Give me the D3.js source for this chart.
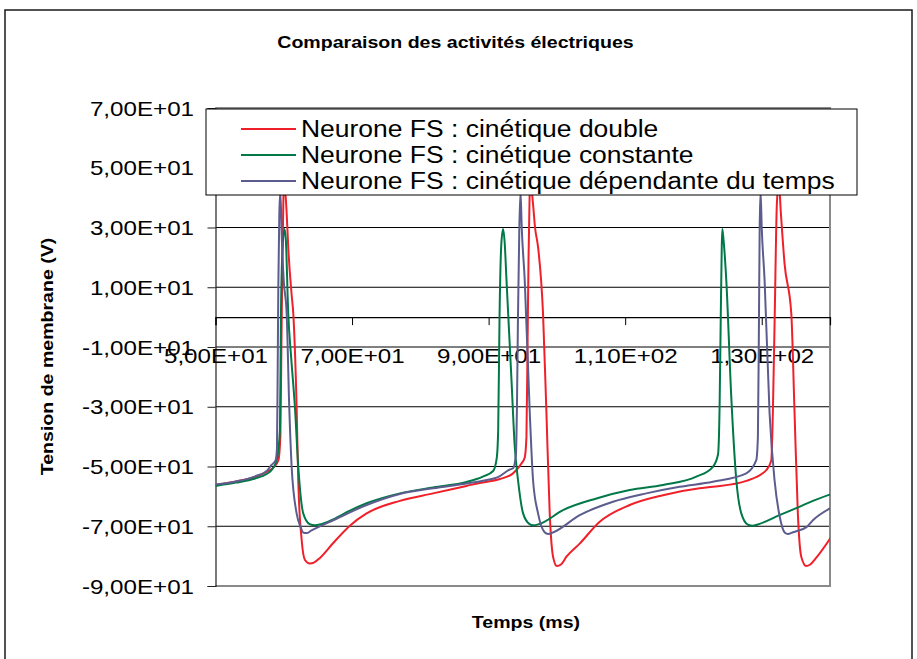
<!DOCTYPE html>
<html>
<head>
<meta charset="utf-8">
<script src="https://cdn.jsdelivr.net/npm/d3@7"></script>
<style>
  html, body { margin: 0; padding: 0; background: #fff; }
  svg { display: block; font-family: "Liberation Sans", Arial, sans-serif; }
</style>
</head>
<body>
<svg id="chart" width="917" height="659"></svg>
<script>
// ---------------- DATA ----------------
const chartTitle = "Comparaison des activités électriques";
const xTitle = "Temps (ms)";
const yTitle = "Tension de membrane (V)";
const seriesNames = [
  "Neurone FS : cinétique double",
  "Neurone FS : cinétique constante",
  "Neurone FS : cinétique dépendante du temps"
];
const seriesColors = ["#f0202a", "#007848", "#5c5c8e"];
const timeTicks = [50, 70, 90, 110, 130];
const voltTicks = [-90, -70, -50, -30, -10, 10, 30, 50, 70];

// cinétique double (red)
const tDouble = [50, 53, 55.8, 57.5, 58.5, 59.2, 59.5, 59.65, 59.8, 59.95, 60.07, 60.42, 60.65, 61.15, 61.39, 61.88, 62.12, 62.62, 63.1, 63.83, 64.4, 65.3, 67.24, 69.68, 72.13, 77.0, 81.87, 86.76, 88.71, 91.64, 93.58, 94.81, 95.29, 95.54, 95.7, 95.85, 96.0, 96.13, 96.5, 96.8, 97.24, 97.97, 98.47, 98.95, 99.44, 100.0, 100.6, 101.4, 103.34, 106.27, 110.66, 115.54, 120.9, 122.85, 127.74, 130.67, 131.4, 131.63, 131.9, 132.22, 132.51, 132.8, 133.34, 134.33, 134.81, 135.29, 135.79, 136.52, 137.1, 138.0, 140.2];
const vDouble = [-56.2, -55, -53.5, -51.8, -50.3, -48, -40, -10, 20, 40, 45, 35, 23.5, 7.5, 1.2, -30, -54.6, -74.6, -81.3, -82.5, -82.2, -80.6, -75.6, -69.8, -65.7, -61.5, -59, -56.5, -55.5, -54.2, -52.3, -49, -47, -40, -10, 20, 40, 45, 38, 30, 23.5, 1.2, -32.2, -65.7, -80.2, -83.3, -82.8, -80.2, -75.8, -68.5, -62.9, -59.6, -57.3, -56.8, -54.8, -51.2, -48, -32, 0, 38, 45, 35, 18, 1.2, -32.2, -65.7, -80.2, -83.3, -82.8, -80.5, -73.5];

// cinétique constante (green)
const tConst = [50, 53, 55.8, 57.5, 58.2, 58.96, 59.44, 59.59, 59.83, 60.1, 60.3, 60.65, 61.1, 61.63, 62.12, 62.85, 63.8, 64.56, 65.5, 67.24, 69.68, 72.13, 77.0, 81.87, 86.76, 89.15, 90.66, 91.2, 91.4, 91.6, 91.85, 92.12, 92.35, 92.62, 93.35, 93.83, 94.31, 95.05, 96.0, 96.51, 97.5, 100.9, 105.79, 110.66, 115.54, 120.42, 122.85, 123.6, 123.83, 124.0, 124.15, 124.23, 124.4, 124.81, 125.54, 126.28, 127.01, 128.0, 128.71, 129.7, 132.6, 135.5, 137.5, 140.2];
const vConst = [-56.5, -55.4, -54, -52.5, -51.2, -47.9, -37.8, 1.3, 23.5, 29.5, 26, 1.3, -14, -30, -50, -65.7, -69.3, -69.7, -69.3, -67.7, -64.8, -62.3, -59.0, -57.0, -55.2, -53.4, -51.5, -47, -38, 0, 24, 29.5, 25, 12.4, -21, -43.4, -54.6, -65.7, -69.3, -69.7, -69.2, -64.6, -60.7, -57.9, -56.2, -53.4, -50.1, -46, -30, 0, 24, 29.5, 26, 12.4, -26.7, -54.6, -65.7, -69.5, -69.8, -69.2, -66.3, -63.5, -61.5, -59.2];

// cinétique dépendante du temps (purple)
const tDep = [50, 53, 55.8, 57.5, 58.2, 58.8, 59.0, 59.1, 59.2, 59.35, 59.5, 59.73, 60.0, 60.42, 60.8, 61.15, 61.88, 62.5, 62.9, 63.35, 64.0, 67.24, 72.13, 77.0, 81.87, 86.76, 89.15, 91.5, 93.1, 93.58, 94.0, 94.15, 94.3, 94.5, 94.67, 94.85, 95.29, 96.03, 96.51, 97.24, 98.2, 98.71, 99.5, 103.34, 108.22, 113.1, 117.98, 122.85, 127.74, 129.2, 129.44, 129.6, 129.7, 129.83, 130.0, 130.42, 131.15, 131.88, 132.61, 133.4, 133.83, 134.6, 136.6, 137.5, 140.2];
const vDep = [-56, -55, -53.3, -51.5, -49.5, -48, -44, -20, 10, 35, 42, 25, 12, 1.3, -30, -50, -65.7, -70.5, -72.2, -72.3, -71.5, -68, -62.9, -59.2, -57.3, -55.7, -54.8, -53.4, -51, -50.6, -46, -30, 0, 30, 42, 30, 12.4, -32.2, -54.6, -65.7, -72, -72.6, -72, -66.3, -61.8, -59, -56.8, -55.1, -52.3, -47.9, -40, 0, 30, 42, 30, 12.4, -32.2, -54.6, -66.5, -72.2, -72.6, -72, -70.2, -68, -63.8];

const seriesTimes = [tDouble, tConst, tDep];
const seriesValues = [vDouble, vConst, vDep];

// ---------------- LAYOUT ----------------
const svg = d3.select("#chart");
const plot = { left: 215.5, right: 830, top: 108, bottom: 586 };
const x = d3.scaleLinear().domain([50, 140]).range([plot.left, plot.right]);
const y = d3.scaleLinear().domain([-90, 70]).range([plot.bottom, plot.top]);
const STRETCH = 1.15;

function stretch(sel, k) {
  sel.each(function () {
    const l = this.getComputedTextLength();
    d3.select(this).attr("textLength", l * k).attr("lengthAdjust", "spacingAndGlyphs");
  });
}
function sci(v) {
  if (v === 0) return "0,00E+00";
  const e = Math.floor(Math.log10(Math.abs(v)) + 1e-9);
  const m = v / Math.pow(10, e);
  return m.toFixed(2).replace(".", ",") + "E" + (e >= 0 ? "+" : "-") + String(Math.abs(e)).padStart(2, "0");
}

// outer frame
svg.append("rect").attr("x", 5).attr("y", 10).attr("width", 907).attr("height", 665)
  .attr("fill", "#fff").attr("stroke", "#1a1a1a").attr("stroke-width", 1.5);

// title
svg.append("text").attr("x", 455.5).attr("y", 48).attr("text-anchor", "middle")
  .attr("font-size", 17).attr("font-weight", "bold").attr("fill", "#000")
  .text(chartTitle).call(stretch, STRETCH);

// gridlines
svg.append("g").selectAll("line").data(voltTicks.filter(v => v > -90)).join("line")
  .attr("x1", plot.left).attr("x2", plot.right)
  .attr("y1", d => y(d)).attr("y2", d => y(d))
  .attr("stroke", "#000").attr("stroke-width", 1);

// plot border (gray)
svg.append("path")
  .attr("d", `M${plot.left},${plot.top}H${plot.right}V${plot.bottom}H${plot.left}`)
  .attr("fill", "none").attr("stroke", "#8a8a8a").attr("stroke-width", 2);

// Y axis
const yAxis = svg.append("g").attr("transform", `translate(${plot.left},0)`)
  .call(d3.axisLeft(y).tickValues(voltTicks).tickSize(8).tickPadding(13.5).tickFormat(sci));
yAxis.select(".domain").attr("stroke", "#222").attr("stroke-width", 1.2);
yAxis.selectAll(".tick line").attr("stroke", "#222");
yAxis.selectAll(".tick text").attr("font-size", 21).attr("fill", "#000")
  .attr("font-family", "'Liberation Sans', Arial, sans-serif").attr("dy", "0.34em")
  .call(stretch, STRETCH);

// X axis at y = 0
const xAxis = svg.append("g").attr("transform", `translate(0,${y(0)})`)
  .call(d3.axisBottom(x).tickValues(timeTicks).tickSize(8).tickPadding(23).tickFormat(sci));
xAxis.select(".domain").attr("stroke", "#000").attr("stroke-width", 1.2);
xAxis.selectAll(".tick line").attr("stroke", "#000");
xAxis.selectAll(".tick text").attr("font-size", 21).attr("fill", "#000")
  .attr("font-family", "'Liberation Sans', Arial, sans-serif")
  .call(stretch, STRETCH);

// axis titles
svg.append("text").attr("transform", "translate(53,356.5) rotate(-90)")
  .attr("text-anchor", "middle").attr("font-size", 17).attr("font-weight", "bold")
  .text(yTitle).call(stretch, STRETCH);
svg.append("text").attr("x", 526).attr("y", 628).attr("text-anchor", "middle")
  .attr("font-size", 17).attr("font-weight", "bold")
  .text(xTitle).call(stretch, STRETCH);

// curves
svg.append("clipPath").attr("id", "plotClip").append("rect")
  .attr("x", plot.left).attr("y", plot.top)
  .attr("width", plot.right - plot.left).attr("height", plot.bottom - plot.top);
const line = d3.line().x(d => x(d[0])).y(d => y(d[1])).curve(d3.curveMonotoneX);
const curves = svg.append("g").attr("clip-path", "url(#plotClip)");
seriesNames.forEach((name, i) => {
  const pts = seriesTimes[i].map((t, j) => [t, seriesValues[i][j]]);
  curves.append("path").datum(pts).attr("d", line)
    .attr("fill", "none").attr("stroke", seriesColors[i])
    .attr("stroke-width", 2).attr("stroke-linejoin", "round");
});

// legend
const legend = svg.append("g");
legend.append("rect").attr("x", 206).attr("y", 109).attr("width", 651).attr("height", 86)
  .attr("fill", "#fff").attr("stroke", "#000").attr("stroke-width", 1);
seriesNames.forEach((name, i) => {
  const cy = 129 + i * 26;
  legend.append("line").attr("x1", 241).attr("x2", 296).attr("y1", cy).attr("y2", cy)
    .attr("stroke", seriesColors[i]).attr("stroke-width", 2);
  legend.append("text").attr("x", 301).attr("y", cy + 8.2)
    .attr("font-size", 23).attr("fill", "#000").text(name).call(stretch, STRETCH);
});
</script>
</body>
</html>
